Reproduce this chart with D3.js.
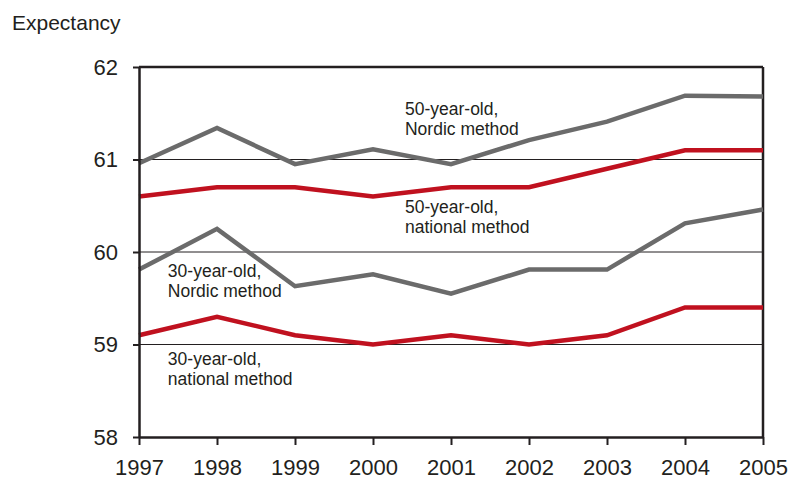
<!DOCTYPE html>
<html>
<head>
<meta charset="utf-8">
<script src="https://cdn.jsdelivr.net/npm/d3@7"></script>
<style>
  body { margin: 0; background: #fff; }
  text { font-family: "Liberation Sans", Arial, sans-serif; fill: #231f20; }
</style>
</head>
<body>
<div id="chart-area"></div>
<script>
// life expectancy, 1997-2005

var years = [1997, 1998, 1999, 2000, 2001, 2002, 2003, 2004, 2005];
var nordic50 = [60.96, 61.34, 60.95, 61.11, 60.95, 61.21, 61.41, 61.69, 61.68];
var national50 = [60.6, 60.7, 60.7, 60.6, 60.7, 60.7, 60.9, 61.1, 61.1];
var nordic30 = [59.81, 60.25, 59.63, 59.76, 59.55, 59.81, 59.81, 60.31, 60.46];
var national30 = [59.1, 59.3, 59.1, 59.0, 59.1, 59.0, 59.1, 59.4, 59.4];
var yTicks = [58, 59, 60, 61, 62];

var series = [
  { values: nordic50, color: "#6b6b6b", label: ["50-year-old,", "Nordic method"], at: [2000.41, 61.48] },
  { values: national50, color: "#c0111f", label: ["50-year-old,", "national method"], at: [2000.41, 60.42] },
  { values: nordic30, color: "#6b6b6b", label: ["30-year-old,", "Nordic method"], at: [1997.37, 59.73] },
  { values: national30, color: "#c0111f", label: ["30-year-old,", "national method"], at: [1997.37, 58.78] }
];

var margin = { left: 139, right: 26, top: 67, bottom: 43 },
    width = 789 - margin.left - margin.right,
    height = 480 - margin.top - margin.bottom;

var svg = d3.select("#chart-area")
    .append("svg")
    .attr("width", 789)
    .attr("height", 480);

svg.append("text")
    .attr("x", 12)
    .attr("y", 30)
    .style("font-size", "21px")
    .text("Expectancy");

var g = svg.append("g")
    .attr("transform", "translate(" + margin.left + "," + margin.top + ")");

var x = d3.scaleLinear()
    .domain([1997, 2005])
    .range([0, width]);

var y = d3.scaleLinear()
    .domain([58, 62])
    .range([height, 0]);

// gridlines
g.selectAll(".grid")
    .data(yTicks.slice(1, 4))
    .enter().append("line")
    .attr("x1", 0)
    .attr("x2", width)
    .attr("y1", function(d) { return y(d); })
    .attr("y2", function(d) { return y(d); })
    .attr("stroke", "#231f20")
    .attr("stroke-width", 1);

// frame top / right
g.append("line")
    .attr("x1", 0).attr("x2", width)
    .attr("y1", 0).attr("y2", 0)
    .attr("stroke", "#231f20").attr("stroke-width", 2.5);
g.append("line")
    .attr("x1", width).attr("x2", width)
    .attr("y1", 0).attr("y2", height)
    .attr("stroke", "#231f20").attr("stroke-width", 2.5);

var line = d3.line()
    .x(function(d, i) { return x(years[i]); })
    .y(function(d) { return y(d); });

g.selectAll(".series")
    .data(series)
    .enter().append("path")
    .attr("fill", "none")
    .attr("stroke", function(d) { return d.color; })
    .attr("stroke-width", 4.5)
    .attr("stroke-linejoin", "miter")
    .attr("d", function(d) { return line(d.values); });

var xAxis = g.append("g")
    .attr("transform", "translate(0," + height + ")")
    .call(d3.axisBottom(x).tickValues(years).tickFormat(d3.format("d")).tickSize(8).tickSizeOuter(0).tickPadding(14));

var yAxis = g.append("g")
    .call(d3.axisLeft(y).tickValues(yTicks).tickFormat(d3.format("d")).tickSize(6).tickSizeOuter(0).tickPadding(15));

[xAxis, yAxis].forEach(function(a) {
  a.select(".domain").attr("stroke", "#231f20").attr("stroke-width", 2.5);
  a.selectAll(".tick line").attr("stroke", "#231f20").attr("stroke-width", 2);
  a.selectAll(".tick text")
      .attr("fill", "#231f20")
      .style("font-size", "22px")
      .style("font-family", "'Liberation Sans', Arial, sans-serif");
});

// line labels
series.forEach(function(s) {
  var t = g.append("text")
      .attr("x", x(s.at[0]))
      .attr("y", y(s.at[1]))
      .style("font-size", "17.5px");
  s.label.forEach(function(l, i) {
    t.append("tspan")
        .attr("x", x(s.at[0]))
        .attr("dy", i === 0 ? 0 : 20)
        .text(l);
  });
});
</script>
</body>
</html>
